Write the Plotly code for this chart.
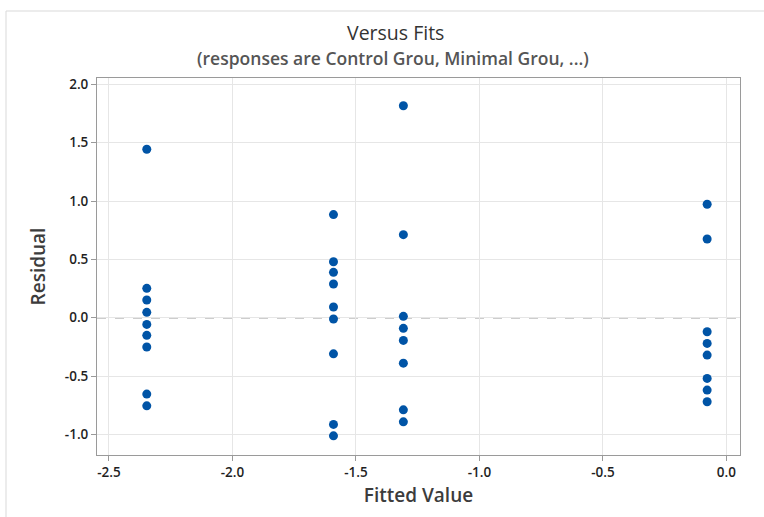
import plotly.graph_objects as go

fits = [-2.347, -1.591, -1.308, -0.078]
resid_g1 = [1.444, 0.252, 0.152, 0.046, -0.057, -0.151, -0.251, -0.654, -0.755]
resid_g2 = [0.884, 0.480, 0.389, 0.289, 0.092, -0.011, -0.309, -0.914, -1.012]
resid_g3 = [1.816, 0.712, 0.012, -0.091, -0.194, -0.389, -0.789, -0.892]
resid_g4 = [0.972, 0.675, -0.120, -0.220, -0.320, -0.520, -0.620, -0.720]
groups = [resid_g1, resid_g2, resid_g3, resid_g4]

xs, ys = [], []
for f, g in zip(fits, groups):
    xs += [f] * len(g)
    ys += g

x_ticks = [-2.5, -2.0, -1.5, -1.0, -0.5, 0.0]
x_labels = ["-2.5", "-2.0", "-1.5", "-1.0", "-0.5", "0.0"]
y_ticks = [-1.0, -0.5, 0.0, 0.5, 1.0, 1.5, 2.0]
y_labels = ["-1.0", "-0.5", "0.0", "0.5", "1.0", "1.5", "2.0"]

FONT = "Open Sans"
fig = go.Figure()
fig.add_trace(go.Scatter(x=xs, y=ys, mode="markers",
                         marker=dict(color="#0054A6", size=9, line=dict(width=0)),
                         showlegend=False, hoverinfo="x+y"))

L, R, T, B = 97, 24, 78, 62
W, H = 764, 517
pw, ph = W - L - R, H - T - B

def px_x(p):
    return (p - L) / pw

def px_y(p):
    return (H - B - p) / ph

axis_common = dict(showline=True, linecolor="#9a9a9a", linewidth=1, mirror=True,
                   ticks="outside", ticklen=5, tickcolor="#9a9a9a",
                   showgrid=True, gridcolor="#e6e6e6", gridwidth=1, zeroline=False,
                   tickfont=dict(family=FONT, size=13.5, color="#1f1f1f", weight=600))

fig.update_layout(
    width=W, height=H,
    margin=dict(l=L, r=R, t=T, b=B),
    plot_bgcolor="white", paper_bgcolor="white",
    font=dict(family=FONT),
    xaxis=dict(range=[-2.5485, 0.055], tickvals=x_ticks, ticktext=x_labels,
               title=dict(text="Fitted Value", font=dict(family=FONT, size=19, color="#3c3c3c", weight=600), standoff=8),
               **axis_common),
    yaxis=dict(range=[-1.176, 2.054], tickvals=y_ticks, ticktext=y_labels,
               title=dict(text="Residual", font=dict(family=FONT, size=19, color="#3c3c3c", weight=600), standoff=14),
               **axis_common),
    shapes=[
        dict(type="line", xref="paper", yref="y", x0=0, x1=1, y0=0, y1=0,
             line=dict(color="#9c9c9c", width=1.4, dash="dash"), layer="below"),
        dict(type="line", xref="paper", yref="paper", x0=px_x(6), x1=px_x(6), y0=px_y(11), y1=px_y(517),
             line=dict(color="#d9d9d9", width=1)),
        dict(type="line", xref="paper", yref="paper", x0=px_x(6), x1=px_x(764), y0=px_y(11), y1=px_y(11),
             line=dict(color="#d9d9d9", width=1)),
    ],
    annotations=[
        dict(text="Versus Fits", xref="paper", yref="paper", x=px_x(395), y=px_y(33),
             xanchor="center", yanchor="middle", showarrow=False,
             font=dict(family=FONT, size=19.5, color="#333333", weight=500)),
        dict(text="(responses are Control Grou, Minimal Grou, ...)", xref="paper", yref="paper",
             x=px_x(393), y=px_y(58), xanchor="center", yanchor="middle", showarrow=False,
             font=dict(family=FONT, size=17.5, color="#555555", weight=600)),
    ],
)

fig.write_html("out.html")
